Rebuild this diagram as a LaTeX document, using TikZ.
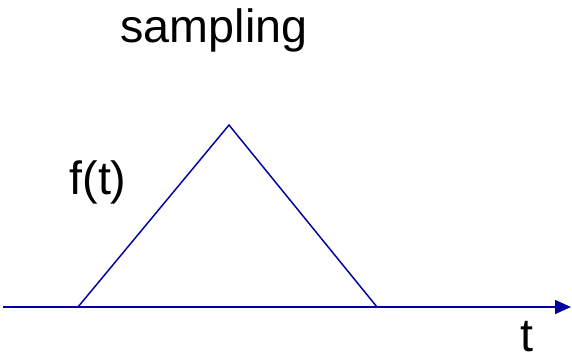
\documentclass[tikz,border=0pt]{standalone}
\usepackage{fontspec}
\setmainfont{Liberation Sans}
\usetikzlibrary{arrows.meta}
\definecolor{plotblue}{RGB}{0,0,160}

\begin{document}
\begin{tikzpicture}[
  x=0.75pt, y=-0.75pt,
  >={Triangle[length=12pt,width=10.5pt]},
  curve/.style={plotblue,line width=1.1pt},
  annot/.style={font=\fontsize{35}{38}\selectfont,inner sep=0pt},
]
\useasboundingbox (0,0) rectangle (572,360);

% Title
\node[annot] (title) at (214,30) {sampling};

% Time axis
\coordinate (axstart) at (3,307);
\coordinate (axend) at (571,307);
\draw[curve,->] (axstart) -- (axend);
\node[annot] (tlabel) at (527,337) {t};

% Triangle pulse
\coordinate (left) at (78,307);
\coordinate (peak) at (229,125);
\coordinate (right) at (377,307);
\draw[curve] (left) -- (peak) -- (right);
\node[annot] (flabel) at (98,182) {f(t)};

\end{tikzpicture}
\end{document}
